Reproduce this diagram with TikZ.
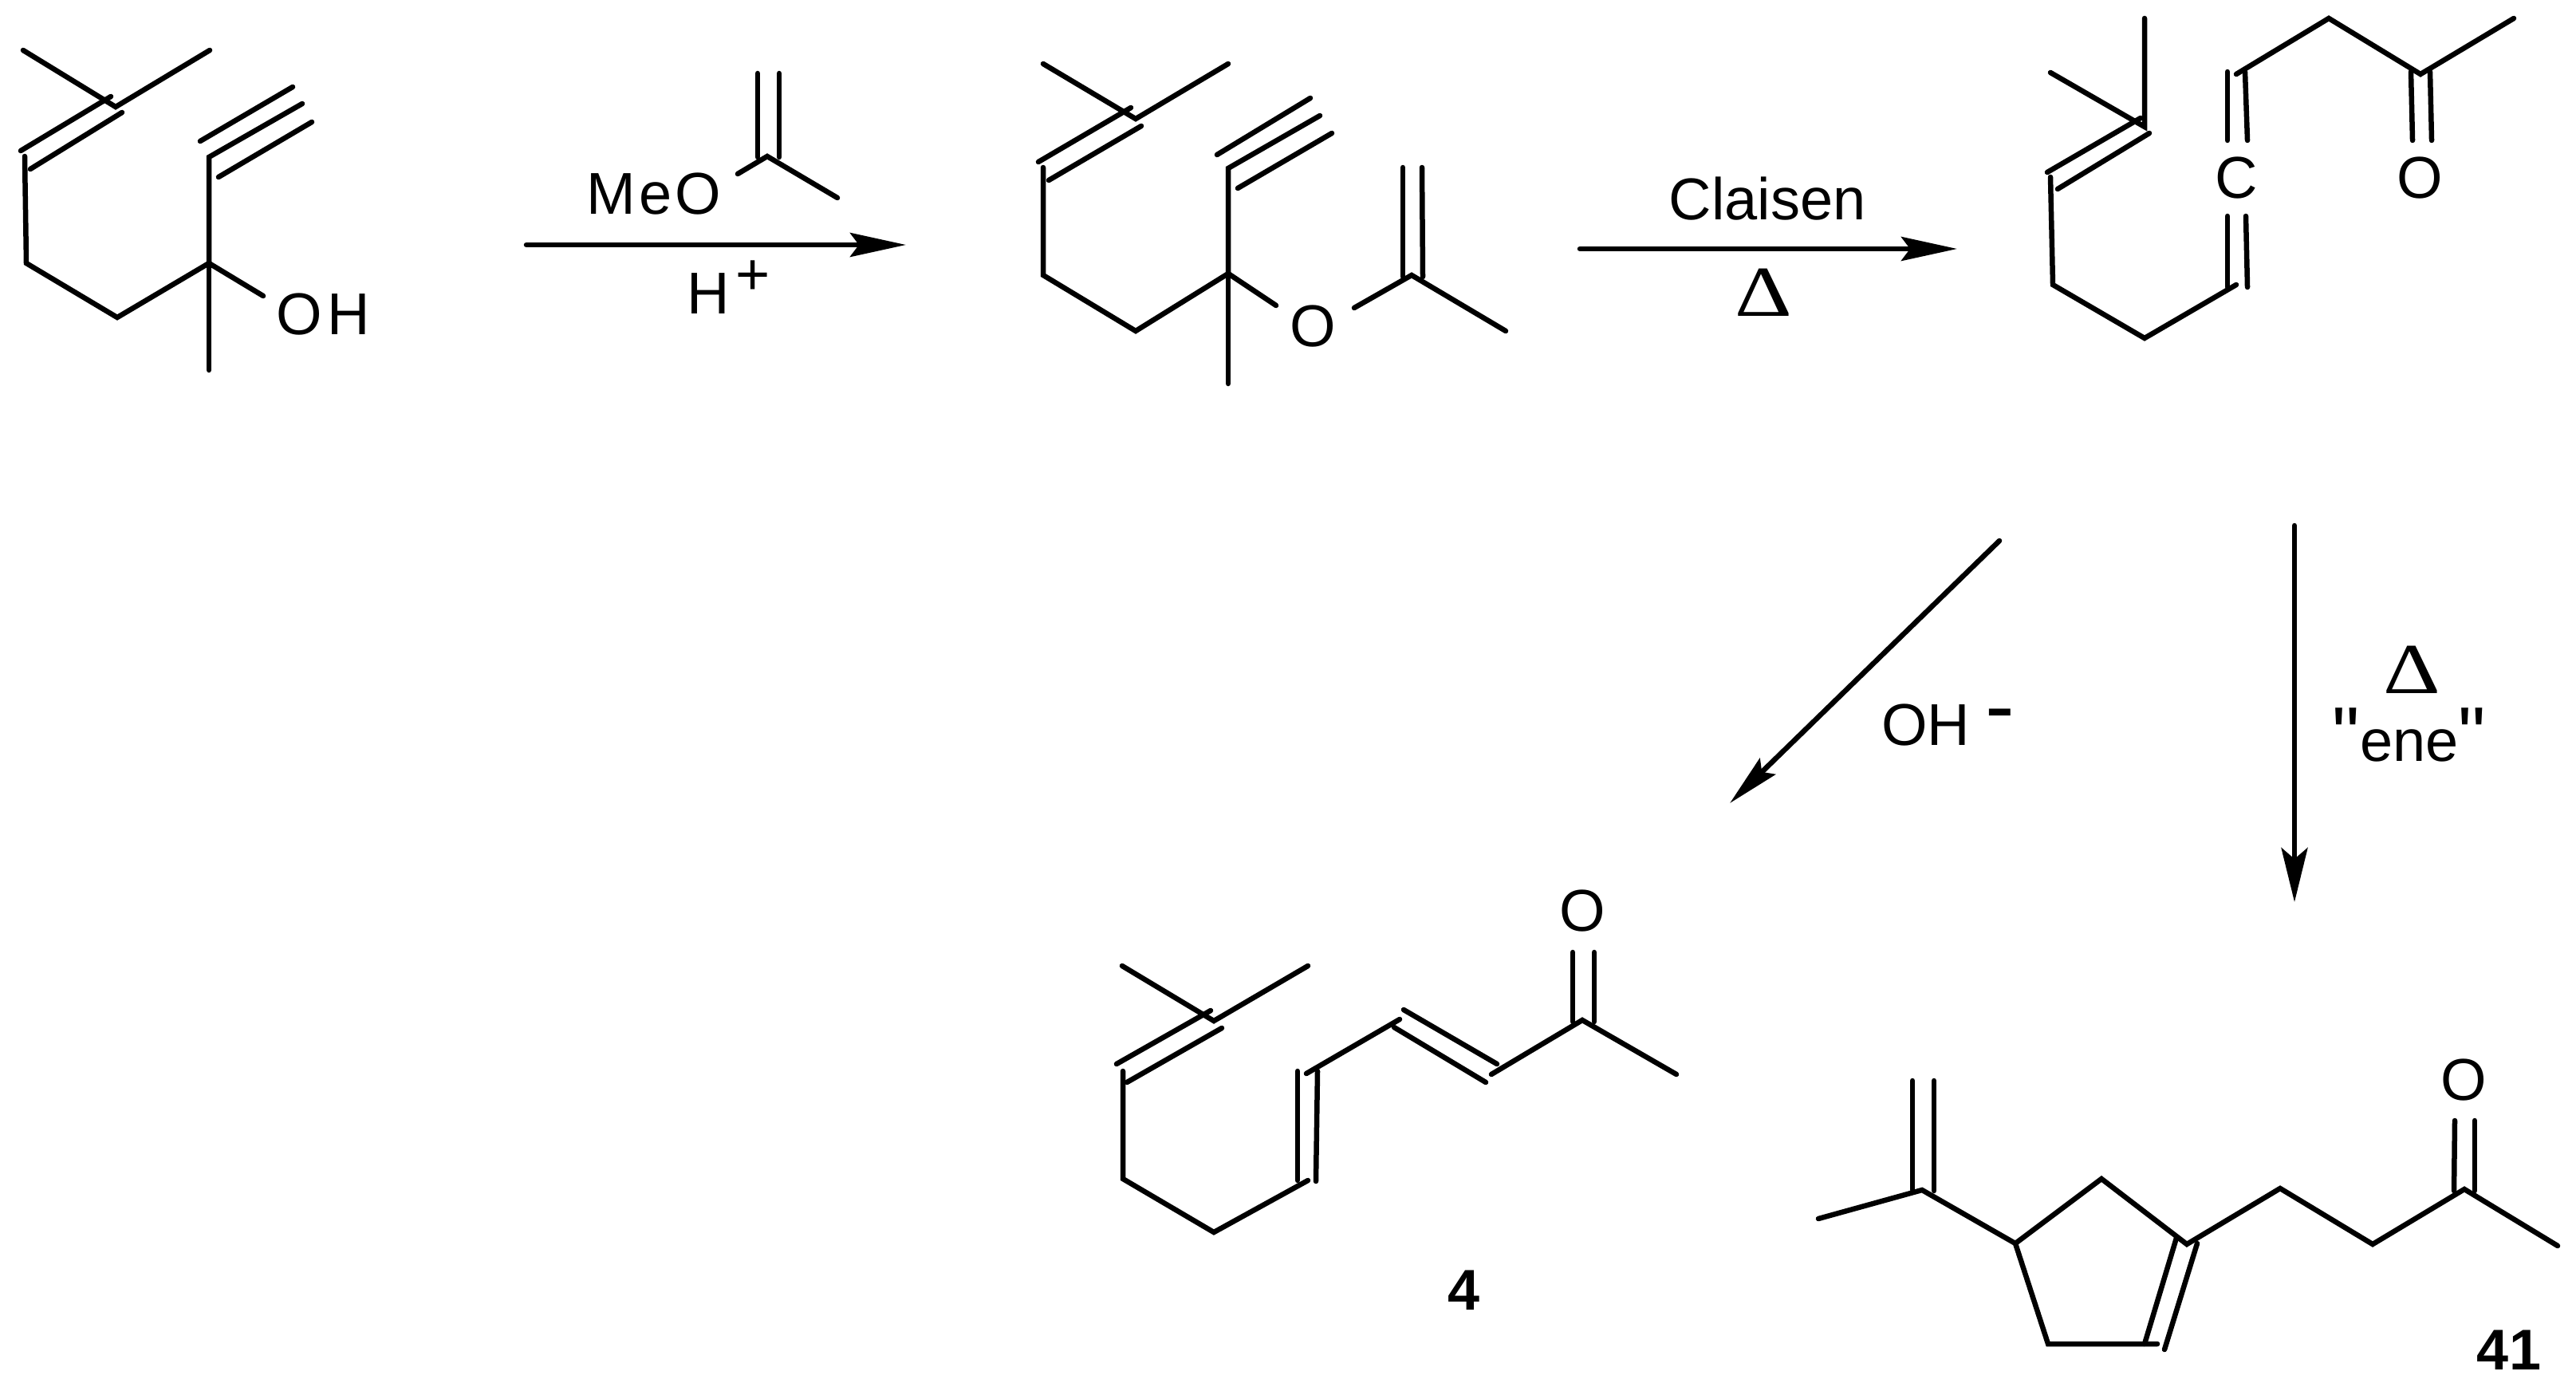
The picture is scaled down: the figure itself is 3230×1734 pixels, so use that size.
\documentclass[tikz,border=0pt]{standalone}
\usepackage{fontspec}
\usepackage{graphicx}
\setmainfont{Liberation Sans}
\newfontfamily\qfont{Liberation Sans}
\newfontfamily\dfont{Liberation Serif}
\usetikzlibrary{arrows.meta}
\tikzset{
  bond/.style={line width=6.5pt,line cap=round,line join=miter,black},
  rxn/.style={line width=6.5pt,line cap=round},
  lbl/.style={inner sep=0pt,anchor=base,font=\fontsize{74}{74}\selectfont},
  lblw/.style={inner sep=0pt,anchor=base west,font=\fontsize{74}{74}\selectfont},
  num/.style={inner sep=0pt,anchor=base,font=\fontsize{72}{72}\selectfont\bfseries},
  heat/.style={inner sep=0pt,anchor=base,font=\fontsize{90}{90}\selectfont\dfont},
}
\newcommand{\heatsym}{\scalebox{1.24}[1]{Δ}}
\newcommand{\straightq}{{\qfont\fontsize{97}{97}\selectfont"}}
\begin{document}
\begin{tikzpicture}[x=1pt,y=-1pt]
\useasboundingbox (0,0) rectangle (3230,1734);
% ---- molecule A
\coordinate (a1) at (29,63); \coordinate (a2) at (263,63); \coordinate (a3) at (145,134);
\coordinate (au1) at (26,189); \coordinate (au2) at (139,121);
\coordinate (al1) at (38,212); \coordinate (al2) at (153,141);
\coordinate (a4) at (31,196); \coordinate (a5) at (33,330); \coordinate (a6) at (147,398);
\coordinate (a7) at (262,330); \coordinate (a8) at (262,197); \coordinate (a9) at (379,130);
\coordinate (a10) at (251,177); \coordinate (a11) at (367,109);
\coordinate (a12) at (274,222); \coordinate (a13) at (391,153);
\coordinate (a14) at (330,371); \coordinate (a15) at (262,464);
\draw[bond] (a1) -- (a3) -- (a2);
\draw[bond] (au1) -- (au2);
\draw[bond] (al1) -- (al2);
\draw[bond] (a4) -- (a5) -- (a6) -- (a7) -- (a8) -- (a9);
\draw[bond] (a10) -- (a11);
\draw[bond] (a12) -- (a13);
\draw[bond] (a7) -- (a14);
\draw[bond] (a7) -- (a15);
\node[lbl] (oh) at (405,419) {O\kern7pt H};
% ---- reagent
\coordinate (r1) at (962,196); \coordinate (r2) at (925,218); \coordinate (r3) at (1050,248);
\coordinate (r4) at (950,92); \coordinate (r5) at (950,197); \coordinate (r6) at (977,92); \coordinate (r7) at (977,197);
\draw[bond] (r2) -- (r1) -- (r3);
\draw[bond] (r4) -- (r5);
\draw[bond] (r6) -- (r7);
\node[lbl] (meo) at (820,268) {M\kern4pt e\kern4pt O};
\node[lblw] (hp) at (861,393) {H\kern8pt\raisebox{24pt}{+}};
% ---- arrow 1
\coordinate (s1) at (660,307); \coordinate (e1) at (1136,307);
\draw[rxn,-{Stealth[length=70pt,width=30pt,inset=11pt]}] (s1) -- (e1);
% ---- molecule B
\coordinate (b1) at (1308,80); \coordinate (b2) at (1540,80); \coordinate (b3) at (1424,149);
\coordinate (bu1) at (1302,203); \coordinate (bu2) at (1418,135);
\coordinate (bl1) at (1315,226); \coordinate (bl2) at (1431,158);
\coordinate (b4) at (1308,210); \coordinate (b5) at (1308,345); \coordinate (b6) at (1424,415);
\coordinate (b7) at (1540,343); \coordinate (b8) at (1540,211); \coordinate (b9) at (1655,145);
\coordinate (b10) at (1526,194); \coordinate (b11) at (1643,123);
\coordinate (b12) at (1552,236); \coordinate (b13) at (1670,167);
\coordinate (b14) at (1600,383); \coordinate (b15) at (1540,481);
\coordinate (b16) at (1698,386); \coordinate (b17) at (1770,345); \coordinate (b18) at (1888,415);
\coordinate (b19) at (1759,210); \coordinate (b20) at (1759,347);
\coordinate (b21) at (1783,210); \coordinate (b22) at (1784,347);
\draw[bond] (b1) -- (b3) -- (b2);
\draw[bond] (bu1) -- (bu2);
\draw[bond] (bl1) -- (bl2);
\draw[bond] (b4) -- (b5) -- (b6) -- (b7) -- (b8) -- (b9);
\draw[bond] (b10) -- (b11);
\draw[bond] (b12) -- (b13);
\draw[bond] (b7) -- (b14);
\draw[bond] (b7) -- (b15);
\draw[bond] (b16) -- (b17) -- (b18);
\draw[bond] (b19) -- (b20);
\draw[bond] (b21) -- (b22);
\node[lbl] (bo) at (1646,434) {O};
% ---- arrow 2
\coordinate (s2) at (1981,312); \coordinate (e2) at (2454,312);
\draw[rxn,-{Stealth[length=70pt,width=30pt,inset=11pt]}] (s2) -- (e2);
\node[lbl] (claisen) at (2216,275) {Claisen};
\node[heat] (d1) at (2211,396) {\heatsym};
% ---- molecule C
\coordinate (c1) at (2689,23); \coordinate (c2) at (2689,159); \coordinate (c3) at (2571,91);
\coordinate (cu1) at (2567,216); \coordinate (cu2) at (2684,148);
\coordinate (cl1) at (2580,237); \coordinate (cl2) at (2695,167);
\coordinate (c4) at (2571,222); \coordinate (c5) at (2574,357); \coordinate (c6) at (2689,424); \coordinate (c7) at (2804,357);
\coordinate (c8) at (2793,271); \coordinate (c9) at (2793,360); \coordinate (c10) at (2816,271); \coordinate (c11) at (2818,360);
\coordinate (c12) at (2793,90); \coordinate (c13) at (2793,176); \coordinate (c14) at (2815,90); \coordinate (c15) at (2818,176);
\coordinate (c16) at (2804,93); \coordinate (c17) at (2920,23); \coordinate (c18) at (3035,93); \coordinate (c19) at (3152,23);
\coordinate (c20) at (3023,90); \coordinate (c21) at (3025,176); \coordinate (c22) at (3047,90); \coordinate (c23) at (3049,176);
\draw[bond] (c1) -- (c2) -- (c3);
\draw[bond] (cu1) -- (cu2);
\draw[bond] (cl1) -- (cl2);
\draw[bond] (c4) -- (c5) -- (c6) -- (c7);
\draw[bond] (c8) -- (c9);
\draw[bond] (c10) -- (c11);
\draw[bond] (c12) -- (c13);
\draw[bond] (c14) -- (c15);
\draw[bond] (c16) -- (c17) -- (c18) -- (c19);
\draw[bond] (c20) -- (c21);
\draw[bond] (c22) -- (c23);
\node[lbl] (cc) at (2804,248) {C};
\node[lbl] (co) at (3034,248) {O};
% ---- arrow 3 and 4
\coordinate (s3) at (2507,678); \coordinate (e3) at (2169,1007);
\draw[rxn,-{Stealth[length=66pt,width=28pt,inset=10pt]}] (s3) -- (e3);
\node[lblw] (ohm) at (2359,934) {OH\kern19pt\raisebox{12pt}{\fontsize{110}{110}\selectfont -}};
\coordinate (s4) at (2877,659); \coordinate (e4) at (2877,1131);
\draw[rxn,-{Stealth[length=68pt,width=33pt,inset=14pt]}] (s4) -- (e4);
\node[heat] (d2) at (3024,869) {\heatsym};
\node[lbl] (ene) at (3021,954) {\straightq ene\straightq};
% ---- molecule D (4)
\coordinate (d1a) at (1407,1211); \coordinate (d2a) at (1640,1211); \coordinate (d3a) at (1522,1280);
\coordinate (du1) at (1400,1334); \coordinate (du2) at (1518,1267);
\coordinate (dl1) at (1413,1357); \coordinate (dl2) at (1532,1289);
\coordinate (d4a) at (1408,1343); \coordinate (d5a) at (1408,1478); \coordinate (d6a) at (1522,1545); \coordinate (d7a) at (1640,1480);
\coordinate (d8a) at (1627,1343); \coordinate (d9a) at (1627,1480); \coordinate (d10) at (1652,1343); \coordinate (d11) at (1650,1481);
\coordinate (d12) at (1638,1346); \coordinate (d13) at (1755,1278);
\coordinate (d14) at (1748,1288); \coordinate (d15) at (1863,1357); \coordinate (d16) at (1760,1266); \coordinate (d17) at (1877,1334);
\coordinate (d18) at (1870,1347); \coordinate (d19) at (1984,1279); \coordinate (d20) at (2102,1347);
\coordinate (d21) at (1972,1194); \coordinate (d22) at (1972,1281); \coordinate (d23) at (1999,1194); \coordinate (d24) at (1999,1281);
\draw[bond] (d1a) -- (d3a) -- (d2a);
\draw[bond] (du1) -- (du2);
\draw[bond] (dl1) -- (dl2);
\draw[bond] (d4a) -- (d5a) -- (d6a) -- (d7a);
\draw[bond] (d8a) -- (d9a);
\draw[bond] (d10) -- (d11);
\draw[bond] (d12) -- (d13);
\draw[bond] (d14) -- (d15);
\draw[bond] (d16) -- (d17);
\draw[bond] (d18) -- (d19) -- (d20);
\draw[bond] (d21) -- (d22);
\draw[bond] (d23) -- (d24);
\node[lbl] (do) at (1984,1167) {O};
\node[num] (n4) at (1835,1642) {4};
% ---- molecule E (41)
\coordinate (e1a) at (2398,1355); \coordinate (e2a) at (2398,1492); \coordinate (e3a) at (2425,1355); \coordinate (e4a) at (2425,1493);
\coordinate (e5a) at (2410,1492); \coordinate (e6a) at (2280,1528); \coordinate (e7a) at (2527,1559);
\coordinate (e8a) at (2635,1478); \coordinate (e9a) at (2732,1552); \coordinate (e10) at (2742,1560);
\coordinate (e11) at (2859,1490); \coordinate (e12) at (2975,1560); \coordinate (e13) at (3090,1491); \coordinate (e14) at (3207,1562);
\coordinate (e15) at (3078,1405); \coordinate (e16) at (3077,1493); \coordinate (e17) at (3103,1405); \coordinate (e18) at (3103,1493);
\coordinate (e19) at (2568,1685); \coordinate (e20) at (2705,1685);
\coordinate (e21) at (2729,1552); \coordinate (e22) at (2689,1685); \coordinate (e23) at (2755,1559); \coordinate (e24) at (2714,1692);
\draw[bond] (e1a) -- (e2a);
\draw[bond] (e3a) -- (e4a);
\draw[bond] (e6a) -- (e5a) -- (e7a) -- (e8a) -- (e10) -- (e11) -- (e12) -- (e13) -- (e14);
\draw[bond] (e15) -- (e16);
\draw[bond] (e17) -- (e18);
\draw[bond] (e7a) -- (e19) -- (e20);
\draw[bond] (e21) -- (e22);
\draw[bond] (e23) -- (e24);
\node[lbl] (eo) at (3089,1379) {O};
\node[num] (n41) at (3146,1717) {41};
\end{tikzpicture}
\end{document}
